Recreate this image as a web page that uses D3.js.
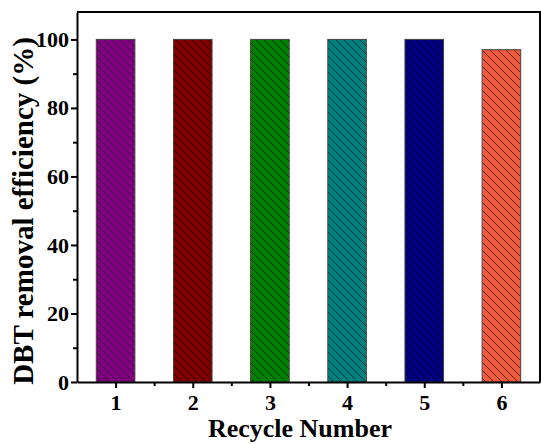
<!DOCTYPE html>
<html>
<head>
<meta charset="utf-8">
<script src="https://cdn.jsdelivr.net/npm/d3@7"></script>
<style>
  html, body { margin: 0; padding: 0; background: #fff; }
  svg { display: block; }
  text { font-family: "Liberation Serif", "Times New Roman", serif; font-weight: bold; fill: #000; }
</style>
</head>
<body>
<svg id="chart" width="541" height="444"></svg>
<script>
// Removal efficiency for each recycle run
const cycles = [1, 2, 3, 4, 5, 6];
const efficiency = [100, 100, 100, 100, 100, 97];
const barColors = ["#800080", "#800000", "#008000", "#008080", "#000080", "#EF5B3D"];
const yTicks = [0, 20, 40, 60, 80, 100];
const xTitle = "Recycle Number";
const yTitle = "DBT removal efficiency (%)";

const svg = d3.select("#chart");
const margin = { left: 77, right: 1, top: 12, bottom: 62 };
const W = 541, H = 444;
const plotW = W - margin.left - margin.right;
const plotH = H - margin.top - margin.bottom;

const x = d3.scaleLinear().domain([0.5, 6.5]).range([margin.left, margin.left + plotW]);
const y = d3.scaleLinear().domain([0, 108]).range([margin.top + plotH, margin.top]);

// hatch pattern: thin dark diagonal strokes running top-left to bottom-right
const defs = svg.append("defs");
barColors.forEach((c, i) => {
  const p = defs.append("pattern")
    .attr("id", "hatch" + i)
    .attr("patternUnits", "userSpaceOnUse")
    .attr("width", 8).attr("height", 8);
  p.append("rect").attr("width", 8).attr("height", 8).attr("fill", c);
  p.append("path")
    .attr("d", "M-2,-2 L10,10 M-2,6 L2,10 M6,-2 L10,2")
    .attr("stroke", "#000").attr("stroke-opacity", 0.6).attr("stroke-width", 1);
});

// bars
const barW = x(1.25) - x(0.75);
svg.append("g").selectAll("rect")
  .data(cycles)
  .join("rect")
  .attr("x", (d) => x(d) - barW / 2)
  .attr("width", barW)
  .attr("y", (d, i) => y(efficiency[i]))
  .attr("height", (d, i) => y(0) - y(efficiency[i]))
  .attr("fill", (d, i) => `url(#hatch${i})`)
  .attr("stroke", "#444")
  .attr("stroke-width", 1);

// frame (top and right)
svg.append("path")
  .attr("d", `M${x(0.5)},${y(108)} H${x(6.5)} V${y(0)}`)
  .attr("fill", "none").attr("stroke", "#000").attr("stroke-width", 2);

// x axis: major ticks at integers, minor ticks between
const xAxis = svg.append("g").attr("transform", `translate(0,${y(0)})`);
xAxis.call(d3.axisBottom(x).tickValues(cycles).tickSize(6).tickSizeOuter(0).tickPadding(6).tickFormat(d3.format("d")));
xAxis.append("g").call(d3.axisBottom(x).tickValues([1.5, 2.5, 3.5, 4.5, 5.5]).tickSize(4).tickSizeOuter(0).tickFormat(""))
  .select(".domain").remove();

// y axis: major ticks every 20, minor every 10
const yAxis = svg.append("g").attr("transform", `translate(${x(0.5)},0)`);
yAxis.call(d3.axisLeft(y).tickValues(yTicks).tickSize(6).tickSizeOuter(0).tickPadding(2));
yAxis.append("g").call(d3.axisLeft(y).tickValues([10, 30, 50, 70, 90]).tickSize(4).tickSizeOuter(0).tickFormat(""))
  .select(".domain").remove();

svg.selectAll(".domain").attr("stroke", "#000").attr("stroke-width", 2);
svg.selectAll(".tick line").attr("stroke", "#000").attr("stroke-width", 2);
svg.selectAll(".tick text")
  .attr("font-family", "Liberation Serif, Times New Roman, serif")
  .attr("font-weight", "bold")
  .attr("font-size", 22)
  .attr("fill", "#000");

// axis titles
svg.append("text")
  .attr("x", 300).attr("y", 437)
  .attr("text-anchor", "middle")
  .attr("font-size", 26)
  .text(xTitle);

svg.append("text")
  .attr("transform", `translate(33,211) rotate(-90)`)
  .attr("text-anchor", "middle")
  .attr("font-size", 29)
  .text(yTitle);
</script>
</body>
</html>
